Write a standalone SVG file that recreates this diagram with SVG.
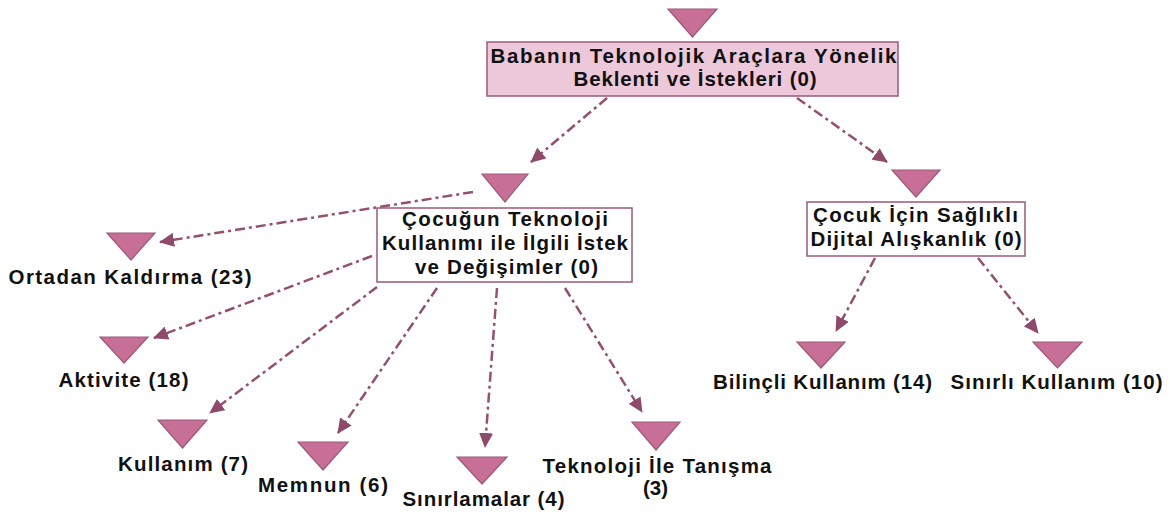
<svg xmlns="http://www.w3.org/2000/svg" width="1170" height="515" viewBox="0 0 1170 515">
<defs>
<style>
.tri{fill:#c86f98;stroke:#9a5a7a;stroke-width:1.2}
.lbl{font-family:"Liberation Sans",Arial,sans-serif;font-weight:bold;font-size:20.5px;fill:#111;text-anchor:middle}
.box{fill:#fff;stroke:#9a5a7a;stroke-width:1.5}
.rootbox{fill:#edc8da;stroke:#9a5a7a;stroke-width:1.5}
.edge{fill:none;stroke:#94506f;stroke-width:2.5;stroke-dasharray:10 4 3 4;marker-end:url(#ah)}
</style>
<marker id="ah" markerUnits="userSpaceOnUse" markerWidth="16" markerHeight="14" refX="14" refY="7" orient="auto">
<path d="M0,0 L15,7 L0,14 Z" fill="#8e4a6a"/>
</marker>
</defs>
<rect width="1170" height="515" fill="#fff"/>
<g id="connectors">
<path class="edge" d="M607,98 L531,162"/>
<path class="edge" d="M797,98 L887,162"/>
<path class="edge" d="M473,192 L160,242"/>
<path class="edge" d="M372,256 L154,338"/>
<path class="edge" d="M377,287 L210,413"/>
<path class="edge" d="M437,288 L338,433"/>
<path class="edge" d="M497,288 L485,447"/>
<path class="edge" d="M565,288 L642,412"/>
<path class="edge" d="M875,258 L836,331"/>
<path class="edge" d="M978,258 L1038,333"/>
</g>
<g id="root">
<polygon class="tri" points="668,9 717,9 692.5,37"/>
<rect class="rootbox" x="487" y="42" width="411" height="54"/>
<text class="lbl" x="693.5" y="63" textLength="406" lengthAdjust="spacing">Babanın Teknolojik Araçlara Yönelik</text>
<text class="lbl" x="695" y="86" textLength="243" lengthAdjust="spacing">Beklenti ve İstekleri (0)</text>
</g>
<g id="cocugun">
<polygon class="tri" points="482,174 528,174 505,202"/>
<rect class="box" x="377" y="208" width="255" height="74"/>
<text class="lbl" x="505" y="226" textLength="206" lengthAdjust="spacing">Çocuğun Teknoloji</text>
<text class="lbl" x="505" y="250" textLength="246" lengthAdjust="spacing">Kullanımı ile İlgili İstek</text>
<text class="lbl" x="506.5" y="274" textLength="183" lengthAdjust="spacing">ve Değişimler (0)</text>
</g>
<g id="saglikli">
<polygon class="tri" points="892,170 940,170 916,197"/>
<rect class="box" x="807" y="202" width="218" height="54"/>
<text class="lbl" x="915.5" y="222" textLength="205" lengthAdjust="spacing">Çocuk İçin Sağlıklı</text>
<text class="lbl" x="916" y="246" textLength="211" lengthAdjust="spacing">Dijital Alışkanlık (0)</text>
</g>
<g id="ortadan">
<polygon class="tri" points="107,233 155,233 131,260"/>
<text class="lbl" x="130" y="284" textLength="243" lengthAdjust="spacing">Ortadan Kaldırma (23)</text>
</g>
<g id="aktivite">
<polygon class="tri" points="100,337 148,337 124,363"/>
<text class="lbl" x="123.5" y="387" textLength="130" lengthAdjust="spacing">Aktivite (18)</text>
</g>
<g id="kullanim">
<polygon class="tri" points="158,420 207,420 182.5,448"/>
<text class="lbl" x="183" y="471" textLength="130" lengthAdjust="spacing">Kullanım (7)</text>
</g>
<g id="memnun">
<polygon class="tri" points="298,442 348,442 323,470"/>
<text class="lbl" x="323" y="492" textLength="130" lengthAdjust="spacing">Memnun (6)</text>
</g>
<g id="sinirlamalar">
<polygon class="tri" points="457,457 507,457 482,484"/>
<text class="lbl" x="483.5" y="506" textLength="162" lengthAdjust="spacing">Sınırlamalar (4)</text>
</g>
<g id="teknoloji">
<polygon class="tri" points="632,422 680,422 656,450"/>
<text class="lbl" x="657" y="473" textLength="229" lengthAdjust="spacing">Teknoloji İle Tanışma</text>
<text class="lbl" x="655.5" y="495">(3)</text>
</g>
<g id="bilincli">
<polygon class="tri" points="797,342 845,342 821,368"/>
<text class="lbl" x="822.5" y="389" textLength="219" lengthAdjust="spacing">Bilinçli Kullanım (14)</text>
</g>
<g id="sinirli">
<polygon class="tri" points="1033,342 1082,342 1057.5,368"/>
<text class="lbl" x="1056.5" y="389" textLength="212" lengthAdjust="spacing">Sınırlı Kullanım (10)</text>
</g>
</svg>
